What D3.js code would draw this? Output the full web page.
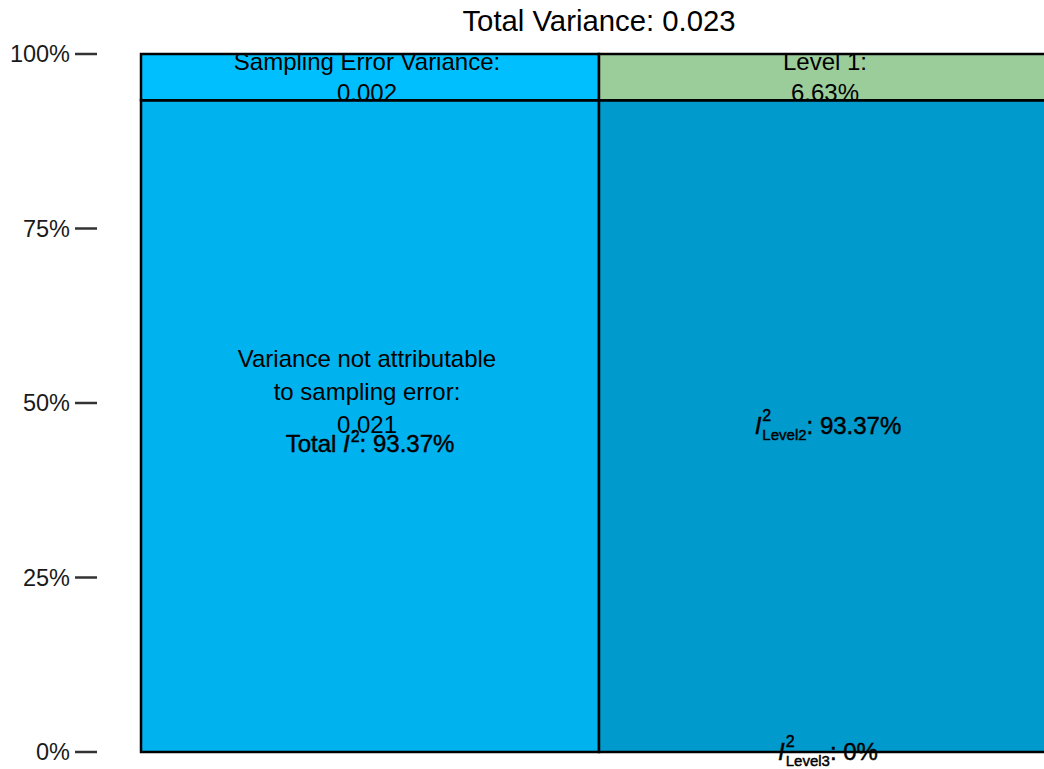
<!DOCTYPE html>
<html>
<head>
<meta charset="utf-8">
<script src="https://cdn.jsdelivr.net/npm/d3@7"></script>
<style>
  body { margin: 0; background: #fff; }
  svg { display: block; font-family: "Liberation Sans", Arial, sans-serif; }
</style>
</head>
<body>
<div id="app"></div>
<script>
// bars on the x axis
const bars = ['Total', 'Levels']

// left bar: share of total variance (%)
const totalParts = ['notSampling', 'sampling']
const totalShares = [93.37, 6.63]
const totalLabels = [['Variance not attributable', 'to sampling error:', '0.021'], ['Sampling Error Variance:', '0.002']]

// right bar: share per level (%)
const levelParts = ['Level 3', 'Level 2', 'Level 1']
const levelShares = [0, 93.37, 6.63]

const totalVariance = 0.023
const yTicks = [0, 25, 50, 75, 100]

const colors = {
  notSampling: '#00B2EE',
  sampling: '#00BFFF',
  'Level 3': '#009ACD',
  'Level 2': '#009ACD',
  'Level 1': '#9BCD9B'
}

function main() {
  const width = 1044
  const height = 769

  const svg = d3.select('#app').append('svg')
    .attr('width', width)
    .attr('height', height)

  const y = d3.scaleLinear().domain([0, 100]).range([752, 54])
  const x = d3.scaleBand().domain(bars).range([141, 1057]).padding(0)

  // stack segments
  function segments(parts, shares) {
    const ends = d3.cumsum(shares)
    return parts.map((p, i) => ({ key: p, y0: ends[i] - shares[i], y1: ends[i] }))
  }
  const totalSeg = segments(totalParts, totalShares)
  const levelSeg = segments(levelParts, levelShares)

  const plot = svg.append('g')

  plot.selectAll('rect.total').data(totalSeg).join('rect')
    .attr('class', 'total')
    .attr('x', x('Total'))
    .attr('width', x.bandwidth())
    .attr('y', (d) => y(d.y1))
    .attr('height', (d) => y(d.y0) - y(d.y1))
    .attr('fill', (d) => colors[d.key])
    .attr('stroke', '#000')
    .attr('stroke-width', 2.5)

  plot.selectAll('rect.level').data(levelSeg).join('rect')
    .attr('class', 'level')
    .attr('x', x('Levels'))
    .attr('width', x.bandwidth())
    .attr('y', (d) => y(d.y1))
    .attr('height', (d) => y(d.y0) - y(d.y1))
    .attr('fill', (d) => colors[d.key])
    .attr('stroke', '#000')
    .attr('stroke-width', 2.5)

  // y axis: ticks and labels
  const axis = svg.append('g')
  axis.selectAll('line').data(yTicks).join('line')
    .attr('x1', 75).attr('x2', 97)
    .attr('y1', (d) => y(d)).attr('y2', (d) => y(d))
    .attr('stroke', '#333').attr('stroke-width', 2.5)
  axis.selectAll('text').data(yTicks).join('text')
    .attr('x', 70)
    .attr('y', (d) => y(d) + 8)
    .attr('text-anchor', 'end')
    .attr('font-size', 23.5)
    .attr('fill', '#1a1a1a')
    .text((d) => d + '%')

  // title
  svg.append('text')
    .attr('x', 599)
    .attr('y', 31)
    .attr('text-anchor', 'middle')
    .attr('font-size', 29.3)
    .attr('fill', '#000')
    .text('Total Variance: ' + totalVariance)

  const fs = 24
  const lineH = 31
  const cxTotal = x('Total') + x.bandwidth() / 2 - 3
  const cxLevel = x('Levels') + x.bandwidth() / 2

  // sampling error label, centred in its segment
  const samp = totalSeg[1]
  svg.append('text')
    .attr('text-anchor', 'middle')
    .attr('font-size', fs)
    .selectAll('tspan').data(totalLabels[1]).join('tspan')
    .attr('x', cxTotal)
    .attr('y', (d, i) => y((samp.y0 + samp.y1) / 2) + 8 + (i - 0.5) * lineH)
    .text((d) => d)

  // variance not attributable label
  svg.append('text')
    .attr('text-anchor', 'middle')
    .attr('font-size', fs)
    .selectAll('tspan').data(totalLabels[0]).join('tspan')
    .attr('x', cxTotal)
    .attr('y', (d, i) => y(51.6) + 8 + (i - 1) * 33)
    .text((d) => d)

  // level 1 label
  const lev1 = levelSeg[2]
  svg.append('text')
    .attr('text-anchor', 'middle')
    .attr('font-size', fs)
    .selectAll('tspan').data(['Level 1:', levelShares[2] + '%']).join('tspan')
    .attr('x', cxLevel - 3)
    .attr('y', (d, i) => y((lev1.y0 + lev1.y1) / 2) + 8 + (i - 0.5) * lineH)
    .text((d) => d)

  // helper to measure text width
  const meas = svg.append('text').attr('visibility', 'hidden')
  function textWidth(str, size, style) {
    meas.attr('font-size', size).attr('font-style', style || 'normal').text(str)
    return meas.node().getComputedTextLength()
  }

  // I^2 labels with stacked super/subscript
  function iLabel(cx, cy, prefix, sub, value) {
    const t = svg.append('text')
      .attr('x', cx)
      .attr('y', cy)
      .attr('text-anchor', 'middle')
      .attr('font-size', fs)
      .attr('fill', '#000')
      .attr('stroke', '#000')
      .attr('stroke-width', 0.45)
    if (prefix) t.append('tspan').text(prefix)
    t.append('tspan').attr('font-style', 'italic').text('I')
    const subW = sub ? textWidth(sub, 15) : 0
    const supW = textWidth('2', 16)
    if (sub) {
      t.append('tspan').attr('font-size', 15).attr('dx', 1).attr('dy', 6).text(sub)
      t.append('tspan').attr('font-size', 16).attr('dx', -subW).attr('dy', -19).text('2')
      t.append('tspan').attr('dx', subW - supW).attr('dy', 13).text(': ' + value + '%')
    } else {
      t.append('tspan').attr('font-size', 16).attr('dx', 1).attr('dy', -10).text('2')
      t.append('tspan').attr('dy', 10).text(': ' + value + '%')
    }
  }

  iLabel(cxTotal + 3, y(44.1) + 8, 'Total ', null, totalShares[0])
  iLabel(cxLevel, y(levelShares[0] + levelShares[1] / 2) + 8, '', 'Level2', levelShares[1])
  iLabel(cxLevel, y(levelShares[0] / 2) + 8, '', 'Level3', levelShares[0])
}

main()
</script>
</body>
</html>
